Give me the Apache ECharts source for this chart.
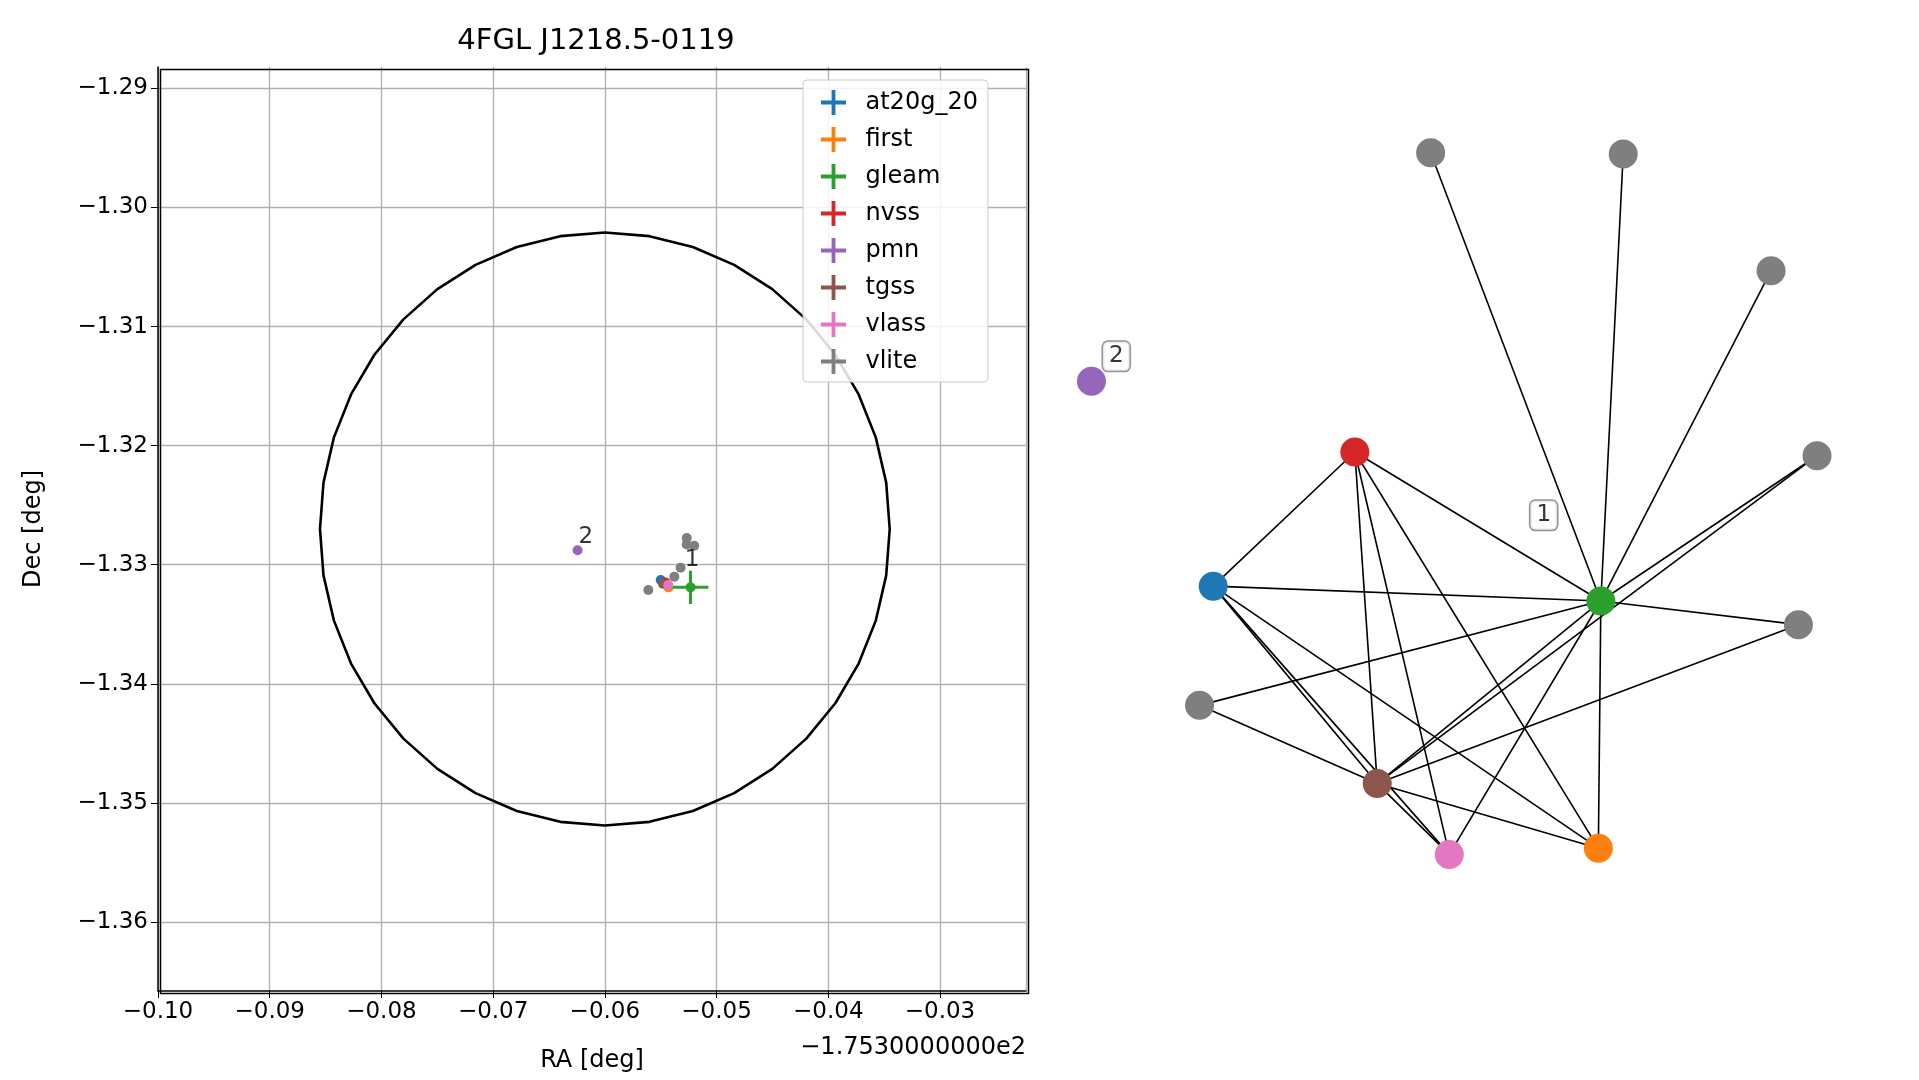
<!DOCTYPE html>
<html><head><meta charset="utf-8">
<script src="https://cdn.jsdelivr.net/npm/echarts@6/dist/echarts.min.js"></script>
<style>html,body{margin:0;background:#fff}#c{width:1919px;height:1080px}</style>
</head><body><div id="c"></div>
<script>
// left panel: RA offset from -175.3 deg, Dec
const catalogs = ["at20g_20", "first", "gleam", "nvss", "pmn", "tgss", "vlass", "vlite"];
const colors = ["#1f77b4", "#ff7f0e", "#2ca02c", "#d62728", "#9467bd", "#8c564b", "#e377c2", "#7f7f7f"];
const raPts = {
  at20g_20: [-0.0550], first: [-0.0543], gleam: [-0.05233], nvss: [-0.05456],
  pmn: [-0.06244], tgss: [-0.0548], vlass: [-0.05433],
  vlite: [-0.05611, -0.05378, -0.05322, -0.05267, -0.05267, -0.0520]
};
const decPts = {
  at20g_20: [-1.33129], first: [-1.3319], gleam: [-1.3319], nvss: [-1.3315],
  pmn: [-1.32879], tgss: [-1.3316], vlass: [-1.3317],
  vlite: [-1.33213, -1.3310, -1.33025, -1.32775, -1.3283, -1.3284]
};
const raErr = { gleam: [0.0016] };
const decErr = { gleam: [0.0014] };
const circleCenter = [-0.0600, -1.3270];
const circleRadius = [0.0255, 0.0249];
const circleSteps = 40;
const groupLabels = [{ text: "2", ra: -0.0617, dec: -1.3277 }, { text: "1", ra: -0.0522, dec: -1.3296 }];
const yTicks = [-1.36, -1.35, -1.34, -1.33, -1.32, -1.31, -1.30, -1.29];

// right panel: network graph (node positions in layout units)
const nodeNames = ["vA", "vB", "vC", "vD", "vE", "vF", "pmn", "nvss", "at20g", "gleam", "tgss", "vlass", "first"];
const nodeX = [1152, 1307, 1426, 1463, 1448, 966, 879, 1091, 977, 1289, 1109, 1167, 1287];
const nodeY = [123, 124, 218, 367, 503, 568, 307, 364, 472, 484, 631, 688, 683];
const nodeColor = [7, 7, 7, 7, 7, 7, 4, 3, 0, 2, 5, 6, 1];
const edges = [
  ["vA", "gleam"], ["vB", "gleam"], ["vC", "gleam"], ["vD", "gleam"], ["vD", "tgss"],
  ["vE", "gleam"], ["vE", "tgss"], ["vF", "gleam"], ["vF", "tgss"],
  ["nvss", "at20g"], ["nvss", "gleam"], ["nvss", "tgss"], ["nvss", "vlass"], ["nvss", "first"],
  ["at20g", "gleam"], ["at20g", "tgss"], ["at20g", "vlass"], ["at20g", "first"],
  ["gleam", "tgss"], ["gleam", "vlass"], ["gleam", "first"], ["tgss", "vlass"], ["tgss", "first"]
];
const boxLabels = [{ text: "2", x: 899, y: 287 }, { text: "1", x: 1243, y: 415 }];

const FONT = "DejaVu Sans";
const minus = v => String(v).replace("-", "\u2212");

const circle = [];
for (let i = 0; i <= circleSteps; i++) {
  const a = 2 * Math.PI * i / circleSteps;
  circle.push([circleCenter[0] + circleRadius[0] * Math.cos(a), circleCenter[1] + circleRadius[1] * Math.sin(a)]);
}

const series = [{
  type: "line", xAxisIndex: 0, yAxisIndex: 0, data: circle, showSymbol: false, smooth: false,
  lineStyle: { color: "#000", width: 2.6 }, silent: true, z: 3
}];
catalogs.forEach((c, i) => {
  const pts = raPts[c].map((r, k) => [r, decPts[c][k], (raErr[c] || [])[k] || 0, (decErr[c] || [])[k] || 0]);
  series.push({
    name: c, type: "custom", xAxisIndex: 0, yAxisIndex: 0, data: pts, z: 5,
    itemStyle: { color: colors[i] },
    renderItem(params, api) {
      const x = api.value(0), y = api.value(1), ex = api.value(2), ey = api.value(3);
      const p = api.coord([x, y]);
      const l = api.coord([x - ex, y]), r = api.coord([x + ex, y]);
      const t = api.coord([x, y + ey]), b = api.coord([x, y - ey]);
      const children = [];
      if (ex > 0) children.push({ type: "line", shape: { x1: l[0], y1: l[1], x2: r[0], y2: r[1] }, style: { stroke: colors[i], lineWidth: 3 } });
      if (ey > 0) children.push({ type: "line", shape: { x1: t[0], y1: t[1], x2: b[0], y2: b[1] }, style: { stroke: colors[i], lineWidth: 3 } });
      children.push({ type: "circle", shape: { cx: p[0], cy: p[1], r: 5 }, style: { fill: colors[i] } });
      return { type: "group", children };
    }
  });
});
series.push({
  type: "scatter", xAxisIndex: 0, yAxisIndex: 0, symbolSize: 0, z: 6,
  data: groupLabels.map(g => ({ value: [g.ra, g.dec], label: { formatter: g.text } })),
  label: { show: true, color: "#000", fontSize: 23, fontFamily: FONT }
});
series.push({
  type: "graph", coordinateSystem: "cartesian2d", xAxisIndex: 1, yAxisIndex: 1, z: 4,
  data: nodeNames.map((n, i) => ({ name: n, value: [nodeX[i], nodeY[i]], itemStyle: { color: colors[nodeColor[i]] } })),
  links: edges.map(e => ({ source: e[0], target: e[1] })),
  symbolSize: 29, lineStyle: { color: "#000", width: 1.6, opacity: 1 }, label: { show: false }
});
series.push({
  type: "scatter", xAxisIndex: 1, yAxisIndex: 1, symbolSize: 0, z: 7,
  data: boxLabels.map(b => ({ value: [b.x, b.y], label: { formatter: b.text } })),
  label: {
    show: true, position: "inside", color: "#000", fontSize: 23, fontFamily: FONT,
    backgroundColor: "#fff", borderColor: "#777", borderWidth: 1.5, borderRadius: 5, padding: [3, 6]
  }
});

const chart = echarts.init(document.getElementById("c"));
chart.setOption({
  animation: false,
  title: { text: "4FGL J1218.5-0119", left: 591, top: 22, textAlign: "center",
    textStyle: { fontFamily: FONT, fontWeight: "normal", fontSize: 29, color: "#000" } },
  legend: {
    data: catalogs, orient: "vertical", left: 803, top: 80, itemGap: 12, itemWidth: 26, itemHeight: 25,
    icon: "path://M11,0H15V11H26V15H15V26H11V15H0V11H11Z",
    backgroundColor: "rgba(255,255,255,0.85)", borderColor: "#ccc", borderWidth: 1, borderRadius: 4,
    padding: [10, 10, 8, 18], textStyle: { fontFamily: FONT, fontSize: 24, color: "#000", padding: [0, 0, 0, 14] }
  },
  grid: [
    { left: 158, top: 67, width: 868, height: 924, show: false },
    { left: 1043, top: 67, width: 820, height: 924, show: false }
  ],
  xAxis: [{
    type: "value", gridIndex: 0, min: -0.10, max: -0.0223, interval: 0.01,
    axisLine: { onZero: false, lineStyle: { color: "#000", width: 1.5 } },
    axisTick: { show: true, length: 7, lineStyle: { color: "#000" } },
    splitLine: { show: true, lineStyle: { color: "#b0b0b0", width: 1.3 } },
    axisLabel: { fontFamily: FONT, fontSize: 23, color: "#000", margin: 10, showMaxLabel: false,
      formatter: v => minus(v.toFixed(2)) },
    name: "RA [deg]", nameLocation: "middle", nameGap: 58,
    nameTextStyle: { fontFamily: FONT, fontSize: 24, color: "#000" }
  }, {
    type: "value", gridIndex: 1, min: 840, max: 1500, show: false
  }],
  yAxis: [{
    type: "value", gridIndex: 0, min: -1.3658, max: -1.2882,
    axisLine: { onZero: false, lineStyle: { color: "#000", width: 1.5 } },
    axisTick: { show: true, length: 7, customValues: yTicks, lineStyle: { color: "#000" } },
    splitLine: { show: true, lineStyle: { color: "#b0b0b0", width: 1.3 } },
    axisLabel: { fontFamily: FONT, fontSize: 23, color: "#000", margin: 10, customValues: yTicks,
      formatter: v => minus(v.toFixed(2)) },
    name: "Dec [deg]", nameLocation: "middle", nameGap: 112, nameRotate: 90,
    nameTextStyle: { fontFamily: FONT, fontSize: 24, color: "#000" }
  }, {
    type: "value", gridIndex: 1, min: 54, max: 798, inverse: true, show: false
  }],
  graphic: [
    { type: "rect", left: 158, top: 67, shape: { width: 868, height: 924 }, style: { fill: "none", stroke: "#000", lineWidth: 1.5 }, silent: true, z: 10 },
    { type: "text", right: 1919 - 1026, top: 1036, style: { text: "\u22121.7530000000e2", fontFamily: FONT, fontSize: 24, fill: "#000" } }
  ],
  series
});
</script></body></html>
